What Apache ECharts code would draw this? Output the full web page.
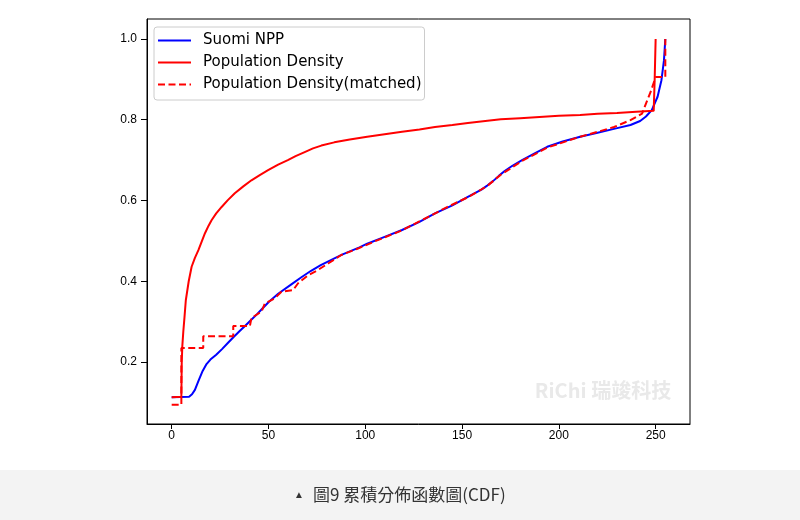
<!DOCTYPE html>
<html>
<head>
<meta charset="utf-8">
<script src="https://cdn.jsdelivr.net/npm/echarts@6/dist/echarts.min.js"></script>
<style>
html,body{margin:0;padding:0;background:#fff;}
#chart{width:800px;height:520px;}
</style>
</head>
<body>
<div id="chart"></div>
<script>
// ---- data ----
var nppX = [0, 9, 10.5, 12, 14, 16, 18, 20, 23, 26, 29, 32, 35, 38, 41, 44, 47, 50, 55, 62, 67, 72, 77, 82.5, 88, 97, 101, 110, 119, 128, 136, 145, 153, 160, 163, 166, 169, 172, 176, 181, 188, 194, 202, 211, 220, 229, 237, 242, 245, 248, 251, 253, 254.3, 255];
var nppY = [0.113, 0.114, 0.12, 0.131, 0.155, 0.178, 0.195, 0.206, 0.218, 0.232, 0.247, 0.262, 0.276, 0.290, 0.304, 0.318, 0.333, 0.348, 0.369, 0.393, 0.41, 0.426, 0.44, 0.453, 0.466, 0.484, 0.493, 0.51, 0.527, 0.547, 0.568, 0.588, 0.609, 0.627, 0.637, 0.648, 0.661, 0.673, 0.686, 0.70, 0.718, 0.733, 0.746, 0.758, 0.768, 0.778, 0.787, 0.797, 0.808, 0.824, 0.857, 0.898, 0.947, 1.0];

var popX = [0, 5, 5.2, 5.5, 6, 6.6, 7.3, 8.8, 10.3, 12, 13.8, 15.5, 17.2, 19, 20.6, 23, 25.8, 29, 32.6, 37, 41.2, 45.5, 49.8, 55, 60, 64, 68.7, 73, 77.3, 84, 92, 101, 110, 119, 128, 136, 145, 153, 162, 170, 180, 190, 200, 211, 220, 230, 240, 249, 249.5, 250];
var popY = [0.113, 0.114, 0.2, 0.24, 0.275, 0.31, 0.353, 0.40, 0.436, 0.458, 0.477, 0.498, 0.519, 0.537, 0.551, 0.568, 0.584, 0.601, 0.618, 0.635, 0.65, 0.663, 0.675, 0.689, 0.70, 0.71, 0.72, 0.729, 0.736, 0.744, 0.751, 0.758, 0.764, 0.77, 0.776, 0.782, 0.787, 0.792, 0.797, 0.801, 0.804, 0.807, 0.81, 0.812, 0.815, 0.817, 0.82, 0.822, 0.9, 1.0];

var matchX = [0, 5, 5, 16.3, 16.3, 31.8, 31.8, 40.4, 41.2, 46.4, 48.1, 53.3, 56.7, 62.7, 65.3, 70.5, 75.6, 80.8, 87.6, 96.2, 105, 118, 130, 142, 153, 163, 170, 181, 194, 211, 220, 228.5, 237, 243, 245, 247.5, 250, 255, 255];
var matchY = [0.094, 0.094, 0.235, 0.235, 0.264, 0.264, 0.289, 0.289, 0.309, 0.325, 0.345, 0.358, 0.374, 0.378, 0.395, 0.415, 0.428, 0.444, 0.465, 0.481, 0.499, 0.524, 0.553, 0.583, 0.608, 0.636, 0.664, 0.698, 0.731, 0.758, 0.770, 0.782, 0.799, 0.815, 0.84, 0.87, 0.906, 0.906, 1.0];

var seriesNames = ['Suomi NPP', 'Population Density', 'Population Density(matched)'];
var xTicks = [0, 50, 100, 150, 200, 250];
var yTicks = [0.2, 0.4, 0.6, 0.8, 1.0];
var captionText = '圖9 累積分佈函數圖(CDF)';
var watermarkText = 'RiChi 瑞竣科技';

function zip(xs, ys) {
  var out = [];
  for (var i = 0; i < xs.length; i++) out.push([xs[i], ys[i]]);
  return out;
}

var chart = echarts.init(document.getElementById('chart'), null, {renderer: 'canvas'});
var tickFont = 'Liberation Sans, Arial, sans-serif';
chart.setOption({
  animation: false,
  backgroundColor: '#ffffff',
  grid: {
    left: 147, right: 110, top: 19, bottom: 96,
    show: true, borderColor: '#000', borderWidth: 1, backgroundColor: 'transparent'
  },
  graphic: [
    {type: 'rect', shape: {x: 0, y: 470, width: 800, height: 50}, style: {fill: '#f3f3f3'}, z: -10},
    {type: 'text', x: 299, y: 495, style: {text: '▲', fontSize: 10, fill: '#333', textVerticalAlign: 'middle', textAlign: 'center'}},
    {type: 'text', x: 313, y: 495, style: {text: captionText, fontSize: 17, fill: '#333', fontFamily: 'Noto Sans CJK TC, sans-serif', textVerticalAlign: 'middle', textAlign: 'left'}},
    {type: 'text', x: 603, y: 390, style: {text: watermarkText, fontSize: 20, fontWeight: 'bold', fill: '#e9e9e9', fontFamily: 'Noto Sans CJK TC, sans-serif', textVerticalAlign: 'middle', textAlign: 'center'}, z: 1}
  ],
  legend: {
    orient: 'vertical',
    left: 154, top: 27,
    padding: [6, 3, 8, 3],
    itemWidth: 33, itemHeight: 15, itemGap: 7,
    backgroundColor: '#ffffff',
    borderColor: '#cccccc', borderWidth: 1, borderRadius: 3,
    itemStyle: {opacity: 0},
    textStyle: {fontFamily: 'DejaVu Sans, sans-serif', fontSize: 15, color: '#000', padding: [0, 0, 0, 7]},
    data: seriesNames
  },
  xAxis: {
    type: 'value', min: -12.75, max: 267.75,
    splitLine: {show: false},
    axisLine: {show: true, onZero: false, lineStyle: {color: '#000'}},
    axisTick: {show: true, length: 5, lineStyle: {color: '#000'}, customValues: xTicks},
    axisLabel: {color: '#000', fontSize: 12, fontFamily: tickFont, margin: 6, customValues: xTicks}
  },
  yAxis: {
    type: 'value', min: 0.0465, max: 1.0495,
    splitLine: {show: false},
    axisLine: {show: true, onZero: false, lineStyle: {color: '#000'}},
    axisTick: {show: true, length: 6, lineStyle: {color: '#000'}, customValues: yTicks},
    axisLabel: {color: '#000', fontSize: 12, fontFamily: tickFont, margin: 10, customValues: yTicks,
      formatter: function (v) { return v.toFixed(1); }}
  },
  series: [
    {name: seriesNames[0], type: 'line', symbol: 'none', data: zip(nppX, nppY),
      lineStyle: {color: '#0000ff', width: 2}, itemStyle: {color: '#0000ff'}, z: 2},
    {name: seriesNames[1], type: 'line', symbol: 'none', data: zip(popX, popY),
      lineStyle: {color: '#ff0000', width: 2}, itemStyle: {color: '#ff0000'}, z: 3},
    {name: seriesNames[2], type: 'line', symbol: 'none', data: zip(matchX, matchY),
      lineStyle: {color: '#ff0000', width: 2, type: [7, 3.5]}, itemStyle: {color: '#ff0000'}, z: 4}
  ]
});
</script>
</body>
</html>
